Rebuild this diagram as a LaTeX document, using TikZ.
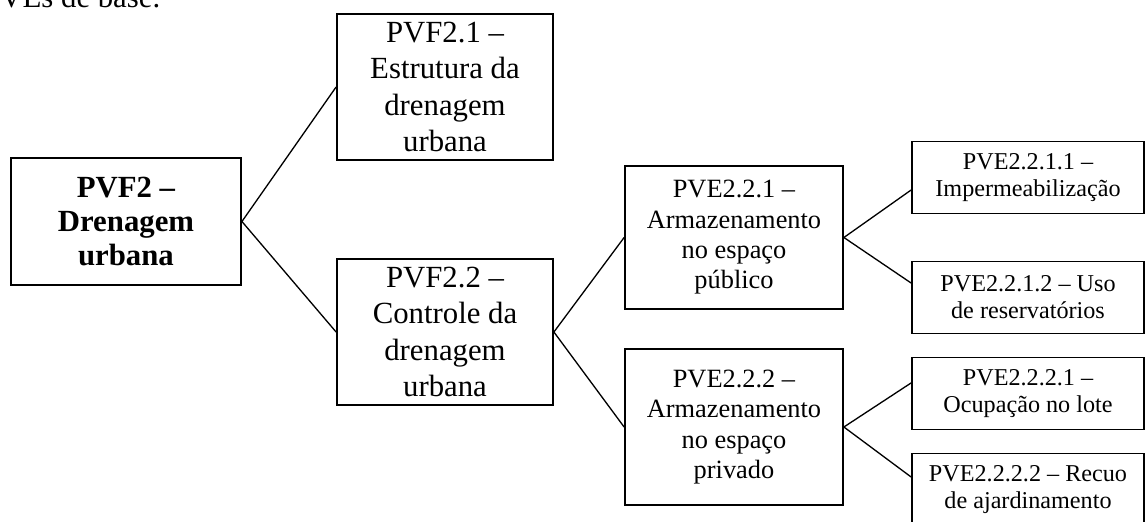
\documentclass[tikz,border=0pt]{standalone}
\usepackage{fontspec}
\setmainfont{Liberation Serif}
\tikzset{
  box/.style={draw, line width=0.8pt, align=center, inner sep=2pt},
  rootbox/.style={box, minimum width=104.7pt, minimum height=57.8pt,
                  font=\fontsize{14}{15.5}\selectfont\bfseries},
  pvfbox/.style={box, minimum width=98.3pt, minimum height=66.4pt,
                 font=\fontsize{14}{16.5}\selectfont},
  pvebox/.style={box, minimum width=99.2pt, minimum height=65pt,
                 font=\fontsize{12}{13.8}\selectfont},
  leafbox/.style={box, minimum width=105.6pt, minimum height=32.8pt,
                  font=\fontsize{11}{12.3}\selectfont},
  link/.style={line width=0.6pt},
}
\begin{document}
\begin{tikzpicture}[x=0.455pt, y=-0.455pt]
  \useasboundingbox (0,0) rectangle (1145,521);
  \node[anchor=base west, inner sep=0, font=\fontsize{14}{16}\selectfont] (txt) at (0,8) {VEs de base.};

  % root and first level
  \node[rootbox] (pvf2) at (126,221.5) {PVF2 –\\Drenagem\\urbana};
  \node[pvfbox] (pvf21) at (445,87) {PVF2.1 –\\Estrutura da\\drenagem\\urbana};
  \node[pvfbox] (pvf22) at (445,332) {PVF2.2 –\\Controle da\\drenagem\\urbana};

  % second level
  \node[pvebox] (pve221) at (734,237.5) {PVE2.2.1 –\\Armazenamento\\no espaço\\público};
  \node[pvebox, minimum height=71pt] (pve222) at (734,427) {PVE2.2.2 –\\Armazenamento\\no espaço\\privado};

  % leaves
  \node[leafbox] (pve2211) at (1028,177.5) {PVE2.2.1.1 –\\Impermeabilização};
  \node[leafbox] (pve2212) at (1028,297.5) {PVE2.2.1.2 – Uso\\de reservatórios};
  \node[leafbox] (pve2221) at (1028,393.5) {PVE2.2.2.1 –\\Ocupação no lote};
  \node[leafbox] (pve2222) at (1028,489.5) {PVE2.2.2.2 – Recuo\\de ajardinamento};

  % connectors
  \draw[link] (pvf2.east) -- (pvf21.west);
  \draw[link] (pvf2.east) -- (pvf22.west);
  \draw[link] (pvf22.east) -- (pve221.west);
  \draw[link] (pvf22.east) -- (pve222.west);
  \draw[link] (pve221.east) -- ([yshift=-5.7pt]pve2211.west);
  \draw[link] (pve221.east) -- ([yshift=6.6pt]pve2212.west);
  \draw[link] (pve222.east) -- ([yshift=4.8pt]pve2221.west);
  \draw[link] (pve222.east) -- ([yshift=5.7pt]pve2222.west);
\end{tikzpicture}
\end{document}
